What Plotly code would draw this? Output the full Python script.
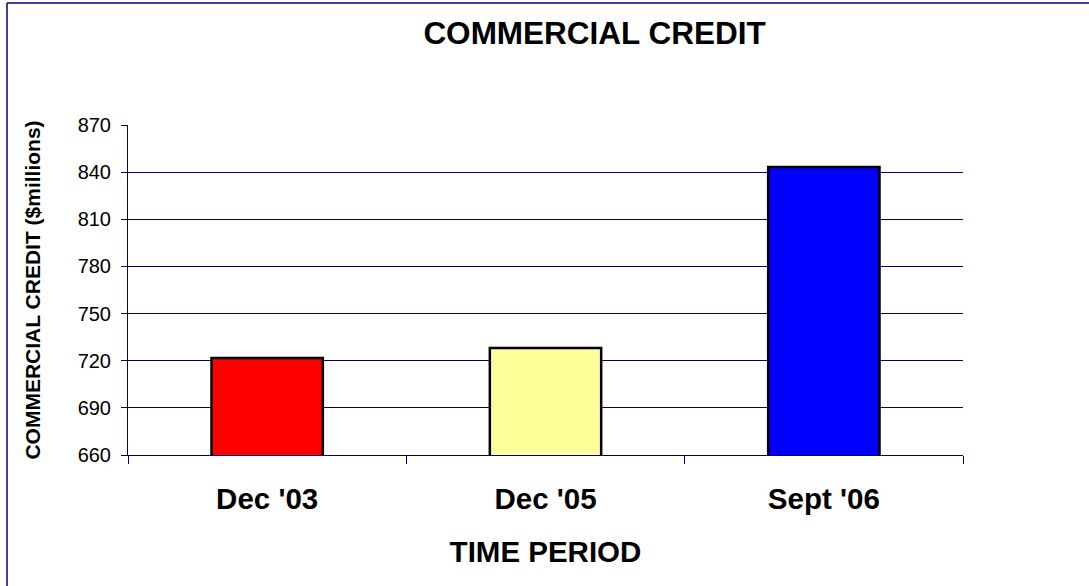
import plotly.graph_objects as go

periods = ["Dec '03", "Dec '05", "Sept '06"]
credit = [721.7, 728.1, 843.2]
bar_colors = ["#FF0000", "#FFFF99", "#0000FF"]
y_ticks = [660, 690, 720, 750, 780, 810, 840, 870]

navy = "#000080"
font = "Liberation Sans, Arial, sans-serif"

fig = go.Figure()
fig.add_trace(go.Bar(
    x=periods, y=credit,
    marker=dict(color=bar_colors, line=dict(color="black", width=2.5)),
    width=0.4,
))

fig.update_layout(
    width=1089, height=586,
    margin=dict(l=128, r=126, t=125, b=131),
    paper_bgcolor="white", plot_bgcolor="white",
    showlegend=False,
    font=dict(family=font, color="black"),
    title=dict(text="<b>COMMERCIAL CREDIT</b>", x=0.546, xanchor="center",
               y=1 - 33 / 586, yanchor="middle",
               font=dict(size=31.5, family=font, color="black")),
    xaxis=dict(
        showline=True, linecolor=navy, linewidth=1,
        ticks="outside", tickson="boundaries", ticklen=8, tickcolor=navy,
        tickfont=dict(size=29.5, family=font),
        tickprefix="<b>", ticksuffix="</b>",
        ticklabelstandoff=18,
        title=dict(text="<b>TIME PERIOD</b>", font=dict(size=29.5, family=font), standoff=26),
        showgrid=False,
    ),
    yaxis=dict(
        range=[660, 870], tickvals=y_ticks,
        showline=True, linecolor=navy, linewidth=1,
        ticks="outside", ticklen=6, tickcolor=navy,
        showgrid=True, gridcolor=navy, gridwidth=1,
        zeroline=False,
        tickfont=dict(size=20, family=font),
        ticklabelstandoff=6,
        title=dict(text="<b>COMMERCIAL CREDIT ($millions)</b>",
                   font=dict(size=21, family=font), standoff=31),
    ),
    shapes=[
        dict(type="line", xref="paper", yref="paper",
             x0=(7 - 128) / 835, x1=(7 - 128) / 835,
             y0=(455 - 3) / 330, y1=(455 - 590) / 330,
             line=dict(color=navy, width=1.5)),
        dict(type="line", xref="paper", yref="paper",
             x0=(7 - 128) / 835, x1=(1095 - 128) / 835,
             y0=(455 - 3) / 330, y1=(455 - 3) / 330,
             line=dict(color=navy, width=1.5)),
    ],
)

fig.write_html("out.html", config={"displayModeBar": False},
               post_script="document.body.style.margin='0';")
